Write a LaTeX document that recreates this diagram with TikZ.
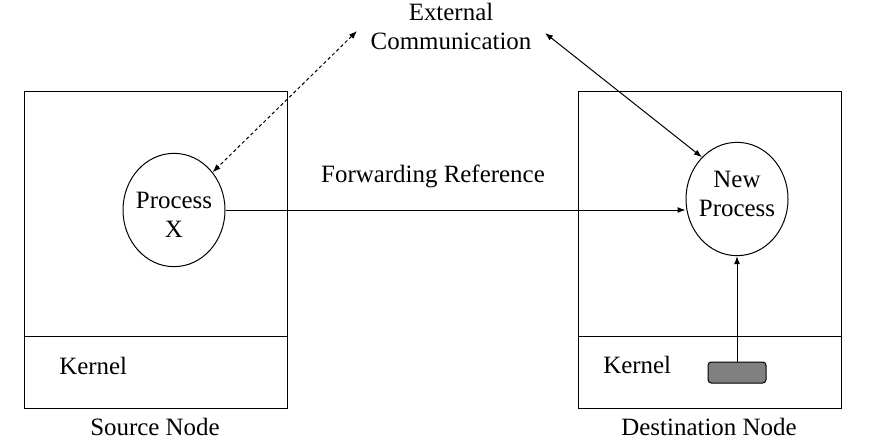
\documentclass[tikz,border=0pt]{standalone}
\usepackage{fontspec}
\setmainfont{Liberation Serif}
\usetikzlibrary{shapes.geometric,arrows.meta}

\begin{document}
\begin{tikzpicture}[x=0.75pt,y=0.75pt,yscale=-1,xscale=1,
  every node/.style={font=\fontsize{18.7}{21.75}\selectfont},
  proc/.style={draw,ellipse,line width=0.75pt,inner sep=0pt,minimum width=76.5pt,minimum height=85pt},
  ptext/.style={align=center,inner sep=0pt},
  link/.style={line width=0.75pt,-{Latex[length=6pt,width=4.5pt]}},
  dlink/.style={line width=0.75pt,{Latex[length=6pt,width=4.5pt]}-{Latex[length=6pt,width=4.5pt]},dash pattern=on 2.5pt off 2pt},
  blink/.style={line width=0.75pt,{Latex[length=6pt,width=4.5pt]}-{Latex[length=6pt,width=4.5pt]}}]
\useasboundingbox (0,0) rectangle (870,439);

%Shape: Rectangle [source node]
\draw [line width=0.75pt] (24,91) rectangle (287,408) ;
\draw [line width=0.75pt] (24,336) -- (287,336) ;
%Shape: Rectangle [destination node]
\draw [line width=0.75pt] (578,91) rectangle (841,408) ;
\draw [line width=0.75pt] (578,336) -- (841,336) ;

%Shape: Ellipse
\draw (174,210) node [proc,label={[ptext,yshift=-3.5pt]center:Process\\X}] (px) {};
%Shape: Ellipse
\draw (737,199) node [proc,label={[ptext,yshift=4pt]center:New\\Process}] (np) {};
%Shape: Rounded Rect
\draw (737,372.5) node [draw,fill={rgb,255:red,128;green,128;blue,128},rounded corners=2.5pt,line width=0.75pt,minimum width=43.5pt,minimum height=15.75pt,inner sep=0pt] (kb) {};

% Text Node
\draw (451,26) node [align=center] (ext) {External\\Communication};
\coordinate (extl) at (357,31);
\coordinate (extr) at (545,33);
% Text Node
\draw (433,176.5) node (fwd) {Forwarding Reference};
% Text Node
\draw (59,365.5) node [anchor=west,inner sep=0pt] (ksrc) {Kernel};
% Text Node
\draw (603,365) node [anchor=west,inner sep=0pt] (kdst) {Kernel};
% Text Node
\draw (155,427) node (src) {Source Node};
% Text Node
\draw (709,427) node (dst) {Destination Node};

%Straight Lines
\draw [dlink] (extl) -- (px) ;
\draw [blink] (extr) -- (np.130) ;
\draw [link] (px.east) -- (px.east -| np.west) ;
\draw [link] (kb) -- (np) ;

\end{tikzpicture}
\end{document}
